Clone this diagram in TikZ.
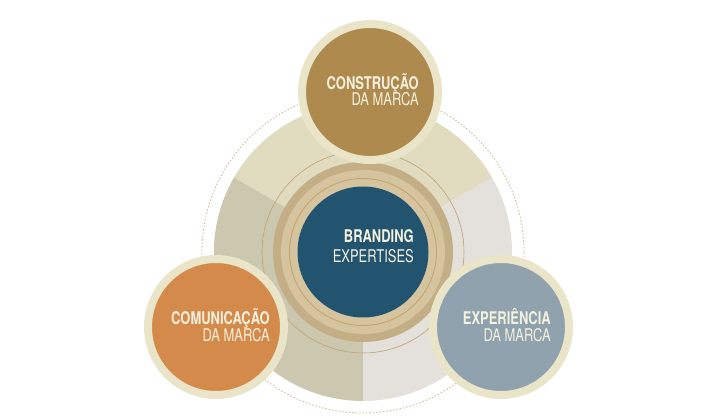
\documentclass[tikz,border=0pt]{standalone}
\usepackage{fontspec}
\setmainfont{TeX Gyre Heros}[FakeStretch=0.74]
\definecolor{secTop}{HTML}{E1DBBF}
\definecolor{secLeft}{HTML}{CCC7AF}
\definecolor{secRight}{HTML}{E4E0DB}
\definecolor{ringBeige}{HTML}{EAE5C9}
\definecolor{brownC}{HTML}{AE8A4E}
\definecolor{orangeC}{HTML}{D48A4A}
\definecolor{greyC}{HTML}{8FA2AE}
\definecolor{blueC}{HTML}{22536F}
\definecolor{darkRing}{HTML}{C3AE86}
\definecolor{lightRing}{HTML}{D6C49F}
\definecolor{thinLine}{HTML}{C0A271}
\definecolor{dashC}{HTML}{CDB795}
\definecolor{txtC}{HTML}{F5F1DF}
\begin{document}
\begin{tikzpicture}[x=1pt,y=1pt,
  bigcirc/.style={circle,inner sep=0pt,minimum size=136pt,draw=ringBeige,line width=8pt},
  lineone/.style={anchor=base east,inner sep=0pt,text=txtC,font=\fontsize{17.5}{20}\selectfont\bfseries},
  linetwo/.style={anchor=base east,inner sep=0pt,text=txtC,font=\fontsize{17.5}{20}\selectfont}]
\useasboundingbox (0,0) rectangle (728,420);
\coordinate (c) at (363,168);
% dashed outer circle
\draw[dashC,line width=0.8pt,dash pattern=on 1.6pt off 1.8pt] (c) circle[radius=161];
% sectors
\fill[secTop] (c) -- ++(30:149) arc[start angle=30,end angle=150,radius=149] -- cycle;
\fill[secLeft] (c) -- ++(150:149) arc[start angle=150,end angle=270,radius=149] -- cycle;
\fill[secRight] (c) -- ++(270:149) arc[start angle=270,end angle=390,radius=149] -- cycle;
% rings
\draw[thinLine,line width=0.6pt] (c) circle[radius=101];
\fill[darkRing] (c) circle[radius=90];
\fill[lightRing] (c) circle[radius=82];
\draw[thinLine,line width=0.8pt] (c) circle[radius=73.5];
\node[circle,inner sep=0pt,minimum size=131pt,fill=blueC] (core) at (c) {};
% outer circles
\node[bigcirc,fill=brownC] (top) at (370,328) {};
\node[bigcirc,fill=orangeC] (left) at (216,93) {};
\node[bigcirc,fill=greyC] (right) at (501,93) {};
% texts
\node[lineone] (t1) at (419,330.5) {CONSTRUÇÃO};
\node[linetwo] (t2) at (419,314) {DA MARCA};
\node[lineone] (b1) at (414,177) {BRANDING};
\node[linetwo] (b2) at (414,157.5) {EXPERTISES};
\node[lineone] (l1) at (270,95) {COMUNICAÇÃO};
\node[linetwo] (l2) at (270,78) {DA MARCA};
\node[lineone] (r1) at (551,95) {EXPERIÊNCIA};
\node[linetwo] (r2) at (551,78) {DA MARCA};
\end{tikzpicture}
\end{document}
